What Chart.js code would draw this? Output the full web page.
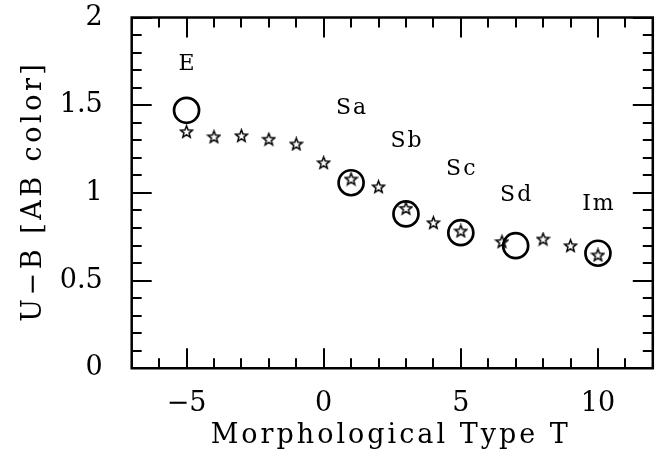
<!DOCTYPE html>
<html><head><meta charset="utf-8">
<script src="https://cdn.jsdelivr.net/npm/chart.js@4"></script>
<style>html,body{margin:0;padding:0;background:#fff}#w{width:668px;height:457px;position:relative}</style>
</head><body><div id="w"><canvas id="c"></canvas></div>
<script>
// Morphological type labels and the mean colours (big circles)
const typeLabels = ['E','Sa','Sb','Sc','Sd','Im'];
const typeT = [-5,1,3,5,7,10];
const typeColor = [1.471,1.058,0.880,0.773,0.699,0.656];
const labelY = [1.734,1.482,1.292,1.136,0.988,0.937];
// Star symbols
const starT = [-5,-4,-3,-2,-1,0,1,2,3,4,5,6.5,8,9,10];
const starColor = [1.349,1.320,1.326,1.306,1.279,1.172,1.079,1.035,0.912,0.830,0.783,0.722,0.737,0.699,0.646];
// Tick labels and axis titles
const xTickValues = [-5,0,5,10];
const yTickValues = [0,0.5,1,1.5,2];
const xTitle = 'Morphological Type T';
const yTitle = 'U\u2212B [AB color]';

const FONT = "'DejaVu Serif', serif";

function makeStar(){
  const s = 15, c = document.createElement('canvas');
  c.width = s; c.height = s;
  const g = c.getContext('2d');
  const cx = s/2, cy = s/2 + 0.5, R = 6.3, r = 2.7;
  g.beginPath();
  for (let i = 0; i < 10; i++){
    const a = -Math.PI/2 + i*Math.PI/5;
    const rr = i%2 ? r : R;
    const px = cx + rr*Math.cos(a), py = cy + rr*Math.sin(a);
    i ? g.lineTo(px,py) : g.moveTo(px,py);
  }
  g.closePath();
  g.fillStyle = '#fff'; g.fill();
  g.lineWidth = 1.5; g.lineJoin = 'miter'; g.strokeStyle = '#000'; g.stroke();
  return c;
}
const starImg = makeStar();

function spacedText(ctx, text, x, y, sp){
  ctx.letterSpacing = sp + 'px';
  ctx.fillText(text, x + sp/2, y);
  ctx.letterSpacing = '0px';
}

const framePlugin = {
  id: 'frame',
  afterDatasetsDraw(chart){
    const {ctx, chartArea: a, scales: {x, y}} = chart;
    ctx.save();
    ctx.strokeStyle = '#000';
    ctx.lineWidth = 2;
    ctx.lineCap = 'butt';
    ctx.beginPath();
    for (let v = Math.ceil(x.min); v <= x.max; v++){
      const px = Math.round(x.getPixelForValue(v));
      const L = (v % 5 === 0) ? 20 : 10;
      ctx.moveTo(px, a.bottom); ctx.lineTo(px, a.bottom - L);
      ctx.moveTo(px, a.top); ctx.lineTo(px, a.top + L);
    }
    for (let i = 0; i <= 20; i++){
      const v = i/10;
      const py = Math.round(y.getPixelForValue(v));
      const L = (i % 5 === 0) ? 20 : 10;
      ctx.moveTo(a.left, py); ctx.lineTo(a.left + L, py);
      ctx.moveTo(a.right, py); ctx.lineTo(a.right - L, py);
    }
    ctx.stroke();
    ctx.lineWidth = 2.5;
    ctx.beginPath();
    ctx.rect(a.left, a.top, a.right - a.left, a.bottom - a.top);
    ctx.stroke();
    // type labels
    ctx.fillStyle = '#000';
    ctx.font = "22px " + FONT;
    ctx.textAlign = 'center';
    ctx.textBaseline = 'middle';
    typeLabels.forEach((t, i) => {
      spacedText(ctx, t, x.getPixelForValue(typeT[i]), y.getPixelForValue(labelY[i]), 2);
    });
    // axis titles
    ctx.font = "27px " + FONT;
    ctx.textBaseline = 'alphabetic';
    spacedText(ctx, xTitle, (a.left + a.right)/2 - 3, 443, 3);
    ctx.save();
    ctx.translate(41, (a.top + a.bottom)/2);
    ctx.rotate(-Math.PI/2);
    spacedText(ctx, yTitle, 0, 0, 3.5);
    ctx.restore();
    ctx.restore();
  }
};

new Chart(document.getElementById('c'), {
  type: 'scatter',
  data: {
    datasets: [
      {
        label: 'types',
        data: typeT.map((t, i) => ({x: t, y: typeColor[i]})),
        pointStyle: 'circle',
        pointRadius: 12.5,
        pointHoverRadius: 12.5,
        borderColor: '#000',
        backgroundColor: 'rgba(0,0,0,0)',
        borderWidth: 2.7
      },
      {
        label: 'stars',
        data: starT.map((t, i) => ({x: t, y: starColor[i]})),
        pointStyle: starImg,
        pointRadius: 7,
        borderColor: '#000',
        backgroundColor: '#fff'
      }
    ]
  },
  options: {
    responsive: true,
    maintainAspectRatio: false,
    devicePixelRatio: 1,
    animation: false,
    events: [],
    layout: {padding: {top: 17.5, right: 11.7, left: 0, bottom: 0}},
    plugins: {legend: {display: false}, tooltip: {enabled: false}},
    scales: {
      x: {
        type: 'linear', min: -7, max: 12,
        grid: {display: false}, border: {display: false},
        afterBuildTicks: s => { s.ticks = xTickValues.map(v => ({value: v})); },
        afterFit: s => { s.height = 457 - 368.3; s.paddingLeft = 0; s.paddingRight = 0; },
        ticks: {
          color: '#000', padding: 14, maxRotation: 0,
          font: {family: FONT, size: 27, lineHeight: 1},
          callback: v => (v < 0 ? '\u2212' + Math.abs(v) : String(v))
        }
      },
      y: {
        type: 'linear', min: 0, max: 2,
        grid: {display: false}, border: {display: false},
        afterBuildTicks: s => { s.ticks = yTickValues.map(v => ({value: v})); },
        afterFit: s => { s.width = 131.7; s.paddingTop = 0; s.paddingBottom = 0; },
        ticks: {
          color: '#000', padding: 21,
          font: {family: FONT, size: 27, lineHeight: 1},
          callback: v => String(v)
        }
      }
    }
  },
  plugins: [framePlugin]
});
</script>
</body></html>
